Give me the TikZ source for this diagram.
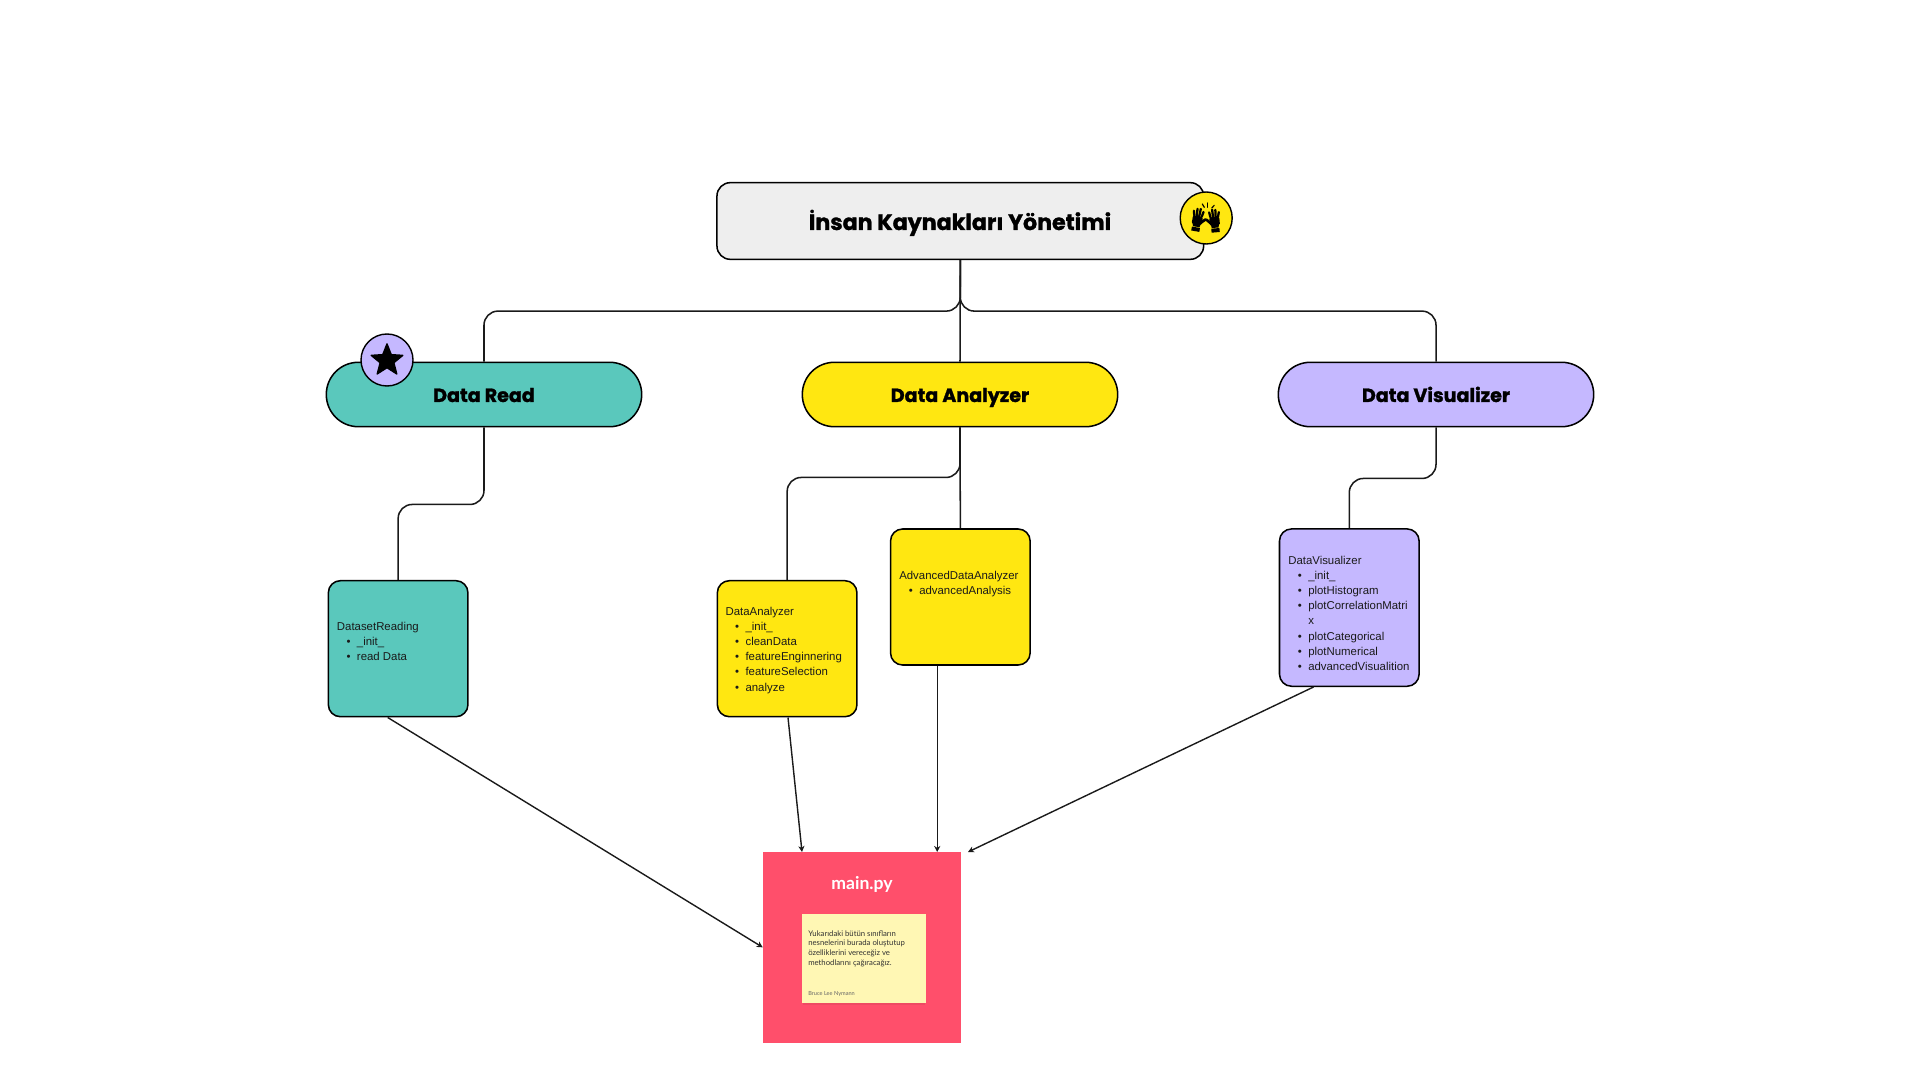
\documentclass[tikz,border=0pt]{standalone}
\usepackage{fontspec}
\usetikzlibrary{arrows.meta,shapes.geometric,calc}
\setmainfont{Liberation Sans}
\newfontfamily\headfont{Poppins}[BoldFeatures={FakeBold=1.3}]
\newfontfamily\notefont{Lato}
\definecolor{cgrey}{HTML}{EEEEEE}
\definecolor{cteal}{HTML}{5AC8BC}
\definecolor{cyell}{HTML}{FFE711}
\definecolor{cpurp}{HTML}{C5B8FF}
\definecolor{cred}{HTML}{FF4F6B}
\definecolor{cnote}{HTML}{FFF7B4}
\definecolor{cink}{HTML}{1A1A1A}
\newcommand{\clsitem}[1]{\hbox{\hspace*{8.75pt}\makebox[0pt]{\textbullet}\hspace*{6.25pt}#1}}
\newcommand{\clslist}[1]{\vtop{\baselineskip=11.4pt\lineskiplimit=-20pt #1}}
\tikzset{
  conn/.style={draw=cink,line width=1.15pt,rounded corners=10.5pt},
  arrowline/.style={draw=cink,line width=1.05pt,-{Stealth[length=4.5pt,width=4.6pt,inset=1.4pt]}},
  titlebox/.style={draw=black,line width=1.15pt,fill=cgrey,rounded corners=10pt,minimum width=365pt,minimum height=57.5pt,inner sep=0pt},
  pill/.style={draw=black,line width=1.15pt,rounded corners=24pt,minimum width=236.5pt,minimum height=48.3pt,inner sep=0pt},
  classbox/.style={draw=black,line width=1.15pt,rounded corners=9pt,minimum width=104.7pt,inner sep=0pt},
  headtext/.style={text=black,inner sep=0pt},
  listtext/.style={font=\fontsize{8.55}{11.4}\selectfont,text=cink,inner sep=0pt,anchor=base west},
  badge/.style={circle,draw=black,line width=1.05pt,minimum size=39pt,inner sep=0pt},
  fingers/.style={draw=black,line width=1.5pt,line cap=round},
}
\begin{document}
\begin{tikzpicture}[x=0.75pt,y=-0.75pt]
\useasboundingbox (0,0) rectangle (1920,1080);

% nodes
\node[titlebox] (title) at (960.3,221) {};
\node[pill,fill=cteal] (read) at (484,394.5) {};
\node[pill,fill=cyell] (analyzer) at (960,394.5) {};
\node[pill,fill=cpurp] (visual) at (1436,394.5) {};
\node[classbox,fill=cteal,minimum height=102pt] (dsr) at (398.15,648.7) {};
\node[classbox,fill=cyell,minimum height=102pt] (dan) at (787.15,648.7) {};
\node[classbox,fill=cyell,minimum height=102pt] (adv) at (960.35,597) {};
\node[classbox,fill=cpurp,minimum height=118pt] (vis) at (1349.3,607.6) {};
\node[fill=cred,minimum width=148.3pt,minimum height=143.3pt,inner sep=0pt] (main) at (861.85,947.35) {};

% tree connectors
\draw[conn] (title.south) -- ++(0,51) -| (read.north);
\draw[conn] (title.south) -- ++(0,51) -| (visual.north);
\draw[conn] (title.south) -- (analyzer.north);
\draw[conn] (read.south) -- ++(0,77) -| (dsr.north);
\draw[conn] (analyzer.south) -- ++(0,50) -| (dan.north);
\draw[conn] (analyzer.south) -- (adv.north);
\draw[conn] (visual.south) -- ++(0,51) -| (vis.north);

% labels
\node[headtext,font=\headfont\bfseries\fontsize{16.6}{20}\selectfont,anchor=base] (titlet) at (960,230) {İnsan Kaynakları Yönetimi};
\node[headtext,font=\headfont\bfseries\fontsize{14.3}{17}\selectfont,anchor=base] (readt) at (484,402) {Data Read};
\node[headtext,font=\headfont\bfseries\fontsize{14.3}{17}\selectfont,anchor=base] (analyzert) at (960,402) {Data Analyzer};
\node[headtext,font=\headfont\bfseries\fontsize{14.3}{17}\selectfont,anchor=base] (visualt) at (1436,402) {Data Visualizer};

% class lists
\node[listtext] (dsrt) at (336.7,630) {\clslist{\hbox{DatasetReading}\clsitem{\_init\_}\clsitem{read Data}}};
\node[listtext] (dant) at (725.3,615) {\clslist{\hbox{DataAnalyzer}\clsitem{\_init\_}\clsitem{cleanData}\clsitem{featureEnginnering}\clsitem{featureSelection}\clsitem{analyze}}};
\node[listtext] (advt) at (899,579) {\clslist{\hbox{AdvancedDataAnalyzer}\clsitem{advancedAnalysis}}};
\node[listtext] (vist) at (1288,564) {\clslist{\hbox{DataVisualizer}\clsitem{\_init\_}\clsitem{plotHistogram}\clsitem{plotCorrelationMatri}\hbox{\hspace*{15pt}x}\clsitem{plotCategorical}\clsitem{plotNumerical}\clsitem{advancedVisualition}}};

% badges
\node[badge,fill=cpurp] (star) at (387,360) {};
\node[star,star points=5,star point ratio=2.3,fill=black,draw=black,line width=1pt,line join=round,minimum size=25pt,inner sep=0pt] (starg) at (387,360.5) {};
\node[badge,fill=cyell] (hands) at (1206.2,218) {};

% clapping hands icon
\foreach \hx/\hy/\hr/\hs in {1197.5/219/-10/1,1214.5/220/5/-1}{
\begin{scope}[shift={(\hx,\hy)},rotate=\hr,xscale=\hs]
  \fill[black,rounded corners=1pt] (-5,-3) rectangle (5,5.5);
  \draw[fingers,line width=1.7pt] (-3.8,-3) -- (-5,-7.5);
  \draw[fingers,line width=1.7pt] (-1.4,-3) -- (-1.7,-10);
  \draw[fingers,line width=1.7pt] (1.2,-3) -- (1.5,-10.5);
  \draw[fingers,line width=1.7pt] (3.8,-3) -- (4.7,-8);
  \draw[draw=black,line width=2pt,line cap=round] (3.5,3.5) -- (8,-1);
  \fill[black] (-4,5) -- (4,5) -- (3.4,7.8) -- (-3.4,7.8) -- cycle;
  \fill[black] (-4.2,8.4) rectangle (4,12.4);
\end{scope}
}
\draw[draw=black,line width=.9pt,line cap=round] (1202.3,204) -- (1204.3,207.3);
\draw[draw=black,line width=.9pt,line cap=round] (1207.7,203) -- (1207.7,207.3);
\draw[draw=black,line width=.9pt,line cap=round] (1214.3,205.3) -- (1211.7,208);

% arrows into main
\coordinate (dsrout) at (387.7,717.5);
\coordinate (danout) at (788,717.5);
\coordinate (danin) at (802,852);
\coordinate (advout) at (937.2,665.5);
\coordinate (advin) at (937.2,852);
\coordinate (visout) at (1313.5,687);
\coordinate (visin) at (968,852);
\draw[arrowline] (dsrout) -- (main.west);
\draw[arrowline] (danout) -- (danin);
\draw[arrowline] (advout) -- (advin);
\draw[arrowline] (visout) -- (visin);

% main content
\node[font=\notefont\bfseries\fontsize{13.2}{15}\selectfont,text=white,anchor=base,inner sep=0pt] (maint) at (862,889.5) {main.py};
\fill[cred!80!black,opacity=.3] (803,916) rectangle (925,1005);
\node[fill=cnote,minimum width=92.8pt,minimum height=66.8pt,inner sep=0pt] (note) at (864.2,958.8) {};
\node[font=\notefont\fontsize{5.8}{7.3}\selectfont,text=black!80,anchor=base west,inner sep=0pt] (notet) at (808,936) {\vtop{\baselineskip=7.3pt\hbox{Yukarıdaki bütün sınıfların}\hbox{nesnelerini burada oluştutup}\hbox{özelliklerini vereceğiz ve}\hbox{methodlarını çağıracağız.}}};
\node[font=\notefont\fontsize{4.2}{5}\selectfont,text=black!60,anchor=base west,inner sep=0pt] (notea) at (808,995) {Bruce Lee Nymann};
\end{tikzpicture}
\end{document}
